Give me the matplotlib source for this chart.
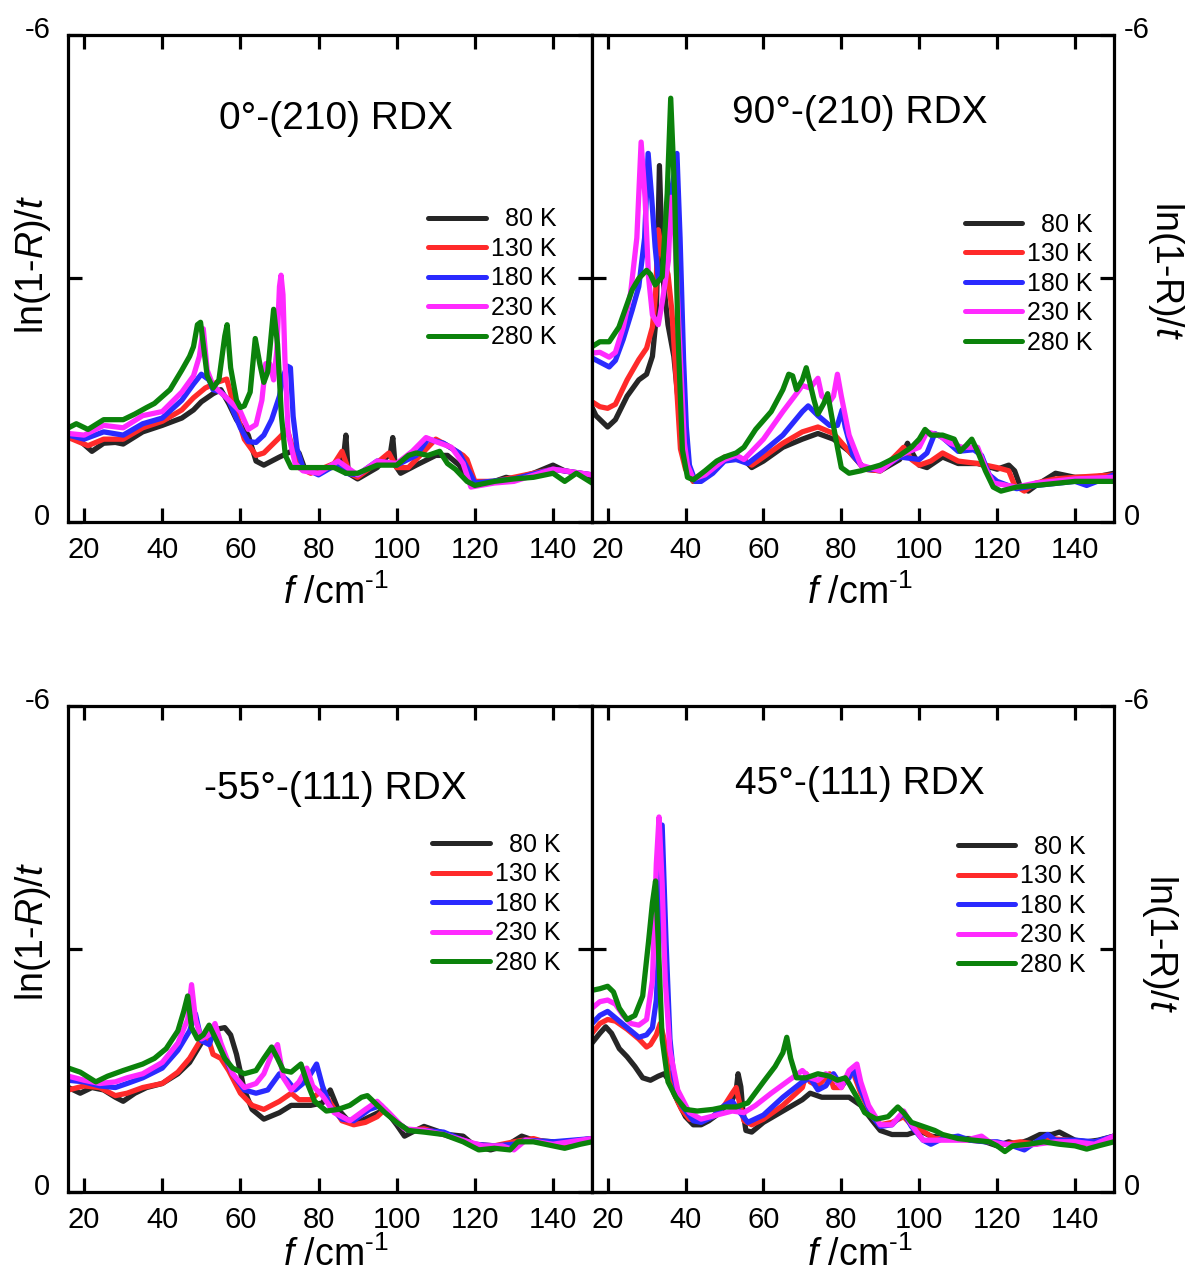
import matplotlib
matplotlib.use('Agg')
import matplotlib.pyplot as plt
import matplotlib.transforms as mtransforms

plt.rcParams['font.family'] = ['Liberation Sans', 'DejaVu Sans']
plt.rcParams['mathtext.fontset'] = 'custom'
plt.rcParams['mathtext.rm'] = 'Liberation Sans'
plt.rcParams['mathtext.it'] = 'Liberation Sans:italic'

# legend labels (leading spaces right-align the 80 K entry)
temps = ['  80 K', '130 K', '180 K', '230 K', '280 K']
colors = ['#262626', '#ff2a2a', '#2a2aff', '#ff2aff', '#0b820b']
xticks = [20, 40, 60, 80, 100, 120, 140]

# ---- 0deg-(210) RDX : (f / cm-1, ln(1-R)/t) ----
TL80 = [(16,-1.07),(18,-1.04),(22,-0.87),(25,-0.97),(28,-0.98),(30,-0.96),(35,-1.11),(40,-1.19),
        (45,-1.28),(48,-1.38),(50,-1.48),(53,-1.58),(55,-1.63),(57,-1.46),(59,-1.26),(62,-1.07),
        (64,-0.75),(66,-0.70),(70,-0.80),(73,-0.87),(75,-0.85),(76.5,-0.65),(80,-0.63),(85,-0.70),
        (86.4,-0.80),(87,-1.07),(87.6,-0.60),(90,-0.53),(95,-0.67),(98.4,-0.85),(99,-1.04),
        (99.6,-0.70),(101,-0.60),(105,-0.70),(110,-0.82),(113,-0.82),(116,-0.70),(118,-0.53),
        (120,-0.45),(125,-0.50),(128,-0.55),(130,-0.53),(135,-0.60),(140,-0.70),(143,-0.63),
        (146,-0.60),(150,-0.55)]
TL130 = [(16,-1.04),(21,-0.94),(25,-1.02),(30,-1.02),(35,-1.16),(40,-1.24),(45,-1.38),(48,-1.53),
         (51,-1.65),(54,-1.72),(56.5,-1.76),(58,-1.50),(61,-1.02),(64,-0.82),(66,-0.85),(70,-1.04),
         (72,-1.14),(73,-0.97),(75,-0.67),(78,-0.60),(84,-0.72),(86,-0.87),(88,-0.60),(90,-0.55),
         (96,-0.77),(98,-0.85),(100,-0.67),(103,-0.67),(108,-0.92),(110,-1.02),(113,-0.94),
         (117,-0.82),(118,-0.77),(120,-0.50),(125,-0.50),(130,-0.55),(140,-0.65),(150,-0.58)]
TL180 = [(16,-1.07),(20,-1.02),(25,-1.11),(30,-1.07),(35,-1.21),(40,-1.28),(45,-1.50),(48,-1.70),
         (50,-1.82),(52,-1.75),(53,-1.63),(55,-1.60),(57,-1.50),(60,-1.16),(62,-0.99),(64,-0.98),
         (66,-1.07),(68,-1.26),(70,-1.55),(71,-1.80),(72,-1.92),(72.8,-1.90),(73.5,-1.30),
         (74.5,-0.90),(76,-0.67),(80,-0.58),(85,-0.72),(87,-0.60),(90,-0.58),(95,-0.75),(100,-0.70),
         (105,-0.82),(108,-1.02),(112,-0.97),(116,-0.85),(118,-0.67),(120,-0.48),(130,-0.53),
         (140,-0.65),(150,-0.58)]
TL230 = [(16,-1.09),(20,-1.07),(25,-1.19),(30,-1.16),(35,-1.31),(40,-1.36),(45,-1.60),(48,-1.80),
         (49.5,-2.04),(50.5,-2.38),(51.5,-1.87),(53,-1.68),(56,-1.55),(60,-1.36),(62,-1.14),
         (64,-1.20),(65.5,-1.50),(66.5,-1.95),(67.5,-1.95),(68.5,-1.75),(69.3,-2.10),(70,-2.90),
         (70.4,-3.04),(70.9,-2.80),(71.4,-2.00),(72.2,-1.10),(74,-0.72),(76,-0.63),(80,-0.60),
         (85,-0.75),(90,-0.58),(95,-0.75),(100,-0.72),(104,-0.87),(107.5,-1.04),(110,-0.99),
         (114,-0.92),(117,-0.72),(119,-0.43),(125,-0.48),(130,-0.50),(140,-0.65),(143,-0.63),
         (150,-0.58)]
TL280 = [(16,-1.16),(18,-1.21),(21,-1.14),(25,-1.26),(30,-1.26),(33,-1.33),(36,-1.41),(38,-1.46),
         (42,-1.63),(45,-1.87),(47,-2.04),(48,-2.16),(49,-2.43),(49.8,-2.46),(50.5,-2.19),
         (51.5,-1.80),(53,-1.65),(54.5,-1.75),(56,-2.29),(56.6,-2.43),(57.5,-1.90),(59,-1.50),
         (60,-1.41),(61,-1.43),(62.5,-1.60),(63.8,-2.26),(65,-1.94),(66,-1.72),(67,-1.85),
         (68.5,-2.62),(69.5,-2.19),(70.5,-1.31),(71.5,-0.82),(73,-0.67),(75,-0.67),(80,-0.67),
         (84,-0.67),(87,-0.60),(90,-0.60),(95,-0.70),(100,-0.70),(103,-0.82),(105,-0.85),
         (108,-0.82),(111,-0.87),(113,-0.72),(115,-0.65),(118,-0.50),(120,-0.45),(125,-0.50),
         (130,-0.53),(135,-0.55),(140,-0.60),(143,-0.50),(146,-0.60),(150,-0.48)]

# ---- 90deg-(210) RDX ----
TR80 = [(16,-1.41),(17,-1.31),(20,-1.17),(22,-1.26),(25,-1.55),(28,-1.75),(30,-1.82),(31.5,-2.04),
        (32.5,-2.53),(33.3,-4.39),(34.2,-3.02),(35.5,-2.43),(37,-2.04),(38,-1.55),(40,-0.82),
        (41,-0.58),(42,-0.50),(45,-0.58),(50,-0.77),(55,-0.77),(57,-0.67),(60,-0.75),(65,-0.92),
        (70,-1.02),(74,-1.09),(78,-1.02),(82,-0.87),(86,-0.65),(90,-0.63),(95,-0.77),(97,-0.97),
        (98,-0.87),(100,-0.70),(102,-0.67),(106,-0.80),(110,-0.72),(115,-0.72),(120,-0.65),
        (123,-0.70),(124.5,-0.63),(126,-0.43),(128,-0.38),(130,-0.45),(135,-0.60),(140,-0.55),
        (145,-0.55),(150,-0.60)]
TR130 = [(16,-1.48),(18,-1.42),(20,-1.40),(22,-1.45),(25,-1.75),(28,-2.00),(30,-2.14),(31.5,-2.40),
         (32.3,-2.80),(33.0,-3.60),(34,-3.30),(35.5,-3.05),(36.5,-2.60),(37.8,-1.60),(38.7,-0.90),
         (40,-0.65),(42,-0.50),(45,-0.60),(50,-0.80),(53,-0.82),(57,-0.70),(60,-0.80),(65,-0.97),
         (70,-1.11),(74,-1.17),(78,-1.09),(82,-0.87),(86,-0.65),(90,-0.63),(95,-0.87),(96,-0.92),
         (98,-0.77),(100,-0.70),(103,-0.75),(106,-0.85),(110,-0.75),(115,-0.72),(120,-0.67),
         (123,-0.63),(124.5,-0.45),(127,-0.38),(130,-0.48),(135,-0.53),(140,-0.55),(150,-0.58)]
TR180 = [(16,-2.02),(18,-1.97),(20.4,-1.91),(22,-1.99),(24,-2.25),(26.3,-2.61),(28,-2.90),
         (29.5,-3.50),(30.4,-4.54),(31.3,-4.00),(32.2,-3.39),(33,-3.00),(34,-3.05),(35,-3.50),
         (36.5,-4.10),(37.8,-4.54),(38.6,-3.50),(39.5,-2.00),(40.2,-1.17),(41,-0.70),(42.5,-0.50),
         (44,-0.50),(47,-0.60),(50,-0.75),(53,-0.77),(56,-0.72),(60,-0.87),(65,-1.07),(70,-1.36),
         (71.5,-1.43),(74,-1.31),(77,-1.19),(79,-1.19),(80.2,-1.38),(81,-1.17),(83,-0.82),
         (86,-0.65),(90,-0.65),(95,-0.80),(100,-0.77),(102,-0.85),(104,-1.09),(106,-1.04),
         (110,-0.87),(114,-0.89),(116,-0.82),(118,-0.58),(120,-0.50),(125,-0.41),(130,-0.45),
         (140,-0.50),(143,-0.45),(150,-0.58)]
TR230 = [(16,-2.08),(18,-2.09),(20.4,-2.03),(22,-2.09),(24,-2.40),(25.9,-2.82),(27.5,-3.50),
         (28.6,-4.68),(29.6,-4.00),(30.5,-3.02),(31.5,-2.55),(33,-2.43),(34,-2.70),(35.6,-3.22),
         (36.3,-4.00),(37.2,-3.60),(38.2,-2.50),(39.7,-0.97),(40.5,-0.70),(42,-0.53),(45,-0.58),
         (50,-0.77),(53,-0.82),(55,-0.77),(60,-1.02),(65,-1.36),(68,-1.55),(70,-1.68),(72,-1.65),
         (74,-1.77),(75,-1.55),(77,-1.48),(78,-1.55),(79,-1.82),(80,-1.55),(82,-1.07),(85,-0.70),
         (90,-0.63),(95,-0.82),(100,-0.92),(102,-1.11),(105,-1.07),(108,-0.97),(111,-0.92),
         (115,-0.92),(117,-0.67),(119,-0.48),(125,-0.43),(130,-0.48),(140,-0.53),(150,-0.55)]
TR280 = [(16,-2.16),(18,-2.22),(20.4,-2.22),(22.9,-2.40),(26.3,-2.86),(28,-3.00),(30,-3.10),
         (31,-3.05),(32.2,-2.92),(34,-3.02),(35.3,-4.05),(36.2,-5.22),(37.2,-4.05),(38,-2.40),
         (39.2,-0.89),(40.5,-0.55),(42,-0.52),(45,-0.63),(48,-0.75),(50,-0.80),(53,-0.85),
         (55,-0.92),(58,-1.14),(62,-1.36),(65,-1.63),(66.5,-1.82),(67.5,-1.80),(68.5,-1.63),
         (70,-1.75),(71,-1.90),(72,-1.70),(73,-1.50),(74,-1.33),(75.5,-1.46),(76.5,-1.58),
         (77.5,-1.31),(79,-0.92),(80,-0.67),(82,-0.60),(85,-0.63),(90,-0.70),(95,-0.82),(98,-0.92),
         (100,-1.02),(101.5,-1.14),(103,-1.07),(106,-1.07),(109,-1.02),(110.5,-0.87),(112,-0.94),
         (113.5,-1.02),(115,-0.87),(117,-0.63),(119,-0.43),(121,-0.38),(125,-0.43),(130,-0.45),
         (140,-0.50),(150,-0.50)]

# ---- -55deg-(111) RDX ----
BL80 = [(16,-1.29),(19,-1.22),(22,-1.29),(25,-1.26),(28,-1.17),(30,-1.12),(33,-1.22),(36,-1.29),
        (40,-1.34),(44,-1.46),(47,-1.60),(50,-1.84),(52,-1.96),(54,-2.01),(56,-2.03),(57.5,-1.94),
        (59,-1.70),(61,-1.26),(63,-1.02),(66,-0.90),(70,-0.98),(73,-1.07),(78,-1.07),(81,-1.10),
        (83,-1.26),(85,-1.02),(88,-0.86),(91,-0.88),(94,-0.95),(97,-1.02),(100,-0.83),(102,-0.69),
        (104,-0.74),(107,-0.81),(110,-0.76),(113,-0.71),(117,-0.69),(120,-0.57),(124,-0.52),
        (128,-0.57),(132,-0.69),(135,-0.64),(140,-0.62),(143,-0.57),(147,-0.64),(150,-0.66)]
BL130 = [(16,-1.26),(20,-1.31),(24,-1.29),(28,-1.19),(31,-1.22),(35,-1.29),(40,-1.34),(44,-1.48),
         (47,-1.65),(50,-1.89),(51.5,-1.94),(53,-1.70),(55,-1.65),(57,-1.50),(60,-1.22),(63,-1.07),
         (66,-1.02),(70,-1.12),(73,-1.22),(75,-1.14),(78,-1.14),(81,-1.26),(83,-1.10),(86,-0.88),
         (89,-0.83),(92,-0.86),(95,-0.93),(97,-1.02),(100,-0.86),(103,-0.76),(107,-0.78),
         (112,-0.71),(117,-0.64),(120,-0.59),(125,-0.57),(130,-0.62),(135,-0.66),(140,-0.59),
         (145,-0.59),(150,-0.66)]
BL180 = [(16,-1.38),(20,-1.36),(24,-1.31),(28,-1.29),(31,-1.34),(35,-1.41),(40,-1.53),(44,-1.75),
         (47,-1.99),(48.5,-2.20),(50,-1.87),(52,-1.82),(53.5,-2.01),(55,-1.77),(58,-1.46),
         (61,-1.26),(64,-1.22),(67,-1.26),(70,-1.46),(72,-1.38),(74,-1.26),(76,-1.34),(78,-1.46),
         (79.5,-1.58),(81,-1.31),(83,-1.05),(86,-0.90),(89,-0.88),(93,-1.02),(96,-1.07),(100,-0.86),
         (103,-0.76),(107,-0.76),(112,-0.74),(117,-0.64),(120,-0.59),(125,-0.57),(130,-0.59),
         (133,-0.64),(140,-0.62),(150,-0.66)]
BL230 = [(16,-1.43),(20,-1.38),(24,-1.34),(28,-1.36),(31,-1.41),(35,-1.46),(40,-1.60),(44,-1.84),
         (46.5,-2.13),(47.5,-2.56),(48.5,-2.13),(50,-1.89),(52,-1.94),(53.5,-2.08),(55,-1.84),
         (58,-1.46),(61,-1.29),(64,-1.34),(66,-1.46),(68,-1.70),(69.5,-1.82),(71,-1.41),(73,-1.26),
         (75,-1.36),(77,-1.53),(78.5,-1.31),(81,-1.19),(84,-0.98),(88,-0.88),(92,-1.02),(95,-1.12),
         (98,-0.98),(102,-0.78),(107,-0.76),(112,-0.71),(117,-0.64),(122,-0.57),(127,-0.57),
         (130,-0.52),(133,-0.64),(140,-0.59),(150,-0.66)]
BL280 = [(16,-1.53),(19,-1.48),(23,-1.36),(26,-1.43),(30,-1.50),(35,-1.58),(38,-1.65),(41,-1.77),
         (44,-1.99),(45.5,-2.23),(46.5,-2.42),(47.5,-2.03),(49,-1.89),(50.5,-1.94),(52,-2.06),
         (53.5,-1.91),(56,-1.65),(58,-1.53),(61,-1.46),(64,-1.50),(66,-1.65),(68,-1.79),
         (69.5,-1.65),(71,-1.50),(73,-1.48),(75.5,-1.58),(77,-1.36),(79,-1.12),(82,-1.00),
         (85,-1.02),(88,-1.07),(91,-1.17),(92.5,-1.19),(94,-1.12),(97,-0.98),(100,-0.86),
         (103,-0.76),(107,-0.74),(112,-0.71),(117,-0.62),(121,-0.52),(125,-0.54),(129,-0.52),
         (131,-0.62),(135,-0.62),(140,-0.57),(143,-0.54),(147,-0.59),(150,-0.62)]

# ---- 45deg-(111) RDX ----
BR80 = [(16,-1.84),(18,-1.96),(19.5,-2.04),(21,-1.96),(23,-1.77),(25,-1.67),(27,-1.55),(29,-1.41),
        (31,-1.38),(33,-1.43),(34.5,-1.46),(36,-1.36),(38,-1.12),(40,-0.93),(42,-0.83),(44,-0.83),
        (46,-0.88),(48,-0.95),(50,-1.05),(52,-1.14),(53,-1.25),(53.5,-1.46),(54.2,-1.30),
        (54.7,-1.02),(55.5,-0.76),(57,-0.74),(60,-0.86),(65,-1.00),(70,-1.14),(72,-1.22),(75,-1.17),
        (80,-1.17),(82,-1.17),(85,-1.07),(88,-0.88),(90,-0.76),(93,-0.71),(97,-0.71),(100,-0.76),
        (103,-0.69),(108,-0.66),(113,-0.66),(117,-0.62),(120,-0.57),(123,-0.62),(125,-0.59),
        (128,-0.64),(131,-0.71),(134,-0.71),(136,-0.74),(140,-0.64),(143,-0.62),(146,-0.64),
        (150,-0.69)]
BR130 = [(16,-1.96),(18,-2.08),(20,-2.13),(22,-2.11),(25,-2.01),(28,-1.89),(30,-1.79),(31,-1.82),
         (32.5,-1.94),(33.5,-2.08),(34.5,-1.89),(35.5,-1.50),(37,-1.22),(39,-1.02),(41,-0.90),
         (44,-0.88),(47,-0.93),(50,-1.07),(52,-1.22),(53,-1.29),(54,-1.07),(55,-0.88),(57,-0.83),
         (60,-0.90),(65,-1.07),(70,-1.29),(71,-1.46),(72,-1.36),(74,-1.31),(77,-1.46),(78,-1.29),
         (80,-1.29),(82,-1.46),(83,-1.48),(85,-1.22),(88,-0.93),(90,-0.83),(93,-0.86),(96,-0.93),
         (98,-0.83),(100,-0.78),(104,-0.66),(108,-0.66),(113,-0.64),(118,-0.62),(122,-0.59),
         (126,-0.62),(130,-0.59),(134,-0.66),(138,-0.64),(142,-0.59),(146,-0.62),(150,-0.69)]
BR180 = [(16,-2.08),(18,-2.18),(20,-2.23),(22,-2.15),(25,-2.03),(28,-1.91),(30,-1.94),(31.5,-2.03),
         (32.5,-2.37),(33.2,-3.09),(34,-4.53),(35,-3.09),(36,-1.89),(37,-1.41),(39,-1.07),
         (42,-0.88),(44,-0.86),(47,-0.93),(50,-1.07),(52,-1.12),(54,-0.98),(56,-0.86),(60,-0.95),
         (65,-1.17),(70,-1.36),(72,-1.41),(74,-1.26),(76,-1.31),(78,-1.46),(80,-1.31),(82,-1.41),
         (83,-1.53),(85,-1.26),(88,-0.93),(90,-0.81),(93,-0.83),(96,-0.98),(98,-0.81),(101,-0.64),
         (103,-0.59),(106,-0.66),(110,-0.69),(113,-0.64),(117,-0.62),(120,-0.62),(124,-0.57),
         (127,-0.52),(130,-0.62),(133,-0.71),(135,-0.64),(140,-0.64),(145,-0.62),(150,-0.69)]
BR230 = [(16,-2.27),(18,-2.35),(20,-2.37),(22,-2.32),(24,-2.18),(26,-2.08),(28,-2.06),(30,-2.13),
         (31.5,-2.61),(32.5,-4.05),(33.2,-4.63),(34,-3.81),(34.8,-2.61),(36,-1.75),(38,-1.26),
         (41,-0.98),(44,-0.90),(48,-0.95),(52,-1.00),(55,-0.98),(58,-1.07),(62,-1.22),(66,-1.36),
         (70,-1.50),(72,-1.41),(74,-1.38),(76,-1.46),(78,-1.41),(80,-1.29),(82,-1.50),(84,-1.58),
         (85,-1.36),(87,-1.07),(90,-0.83),(93,-0.83),(96,-1.00),(98,-0.83),(101,-0.64),(104,-0.64),
         (108,-0.64),(112,-0.64),(116,-0.69),(118,-0.62),(122,-0.59),(126,-0.57),(130,-0.59),
         (135,-0.62),(140,-0.62),(145,-0.59),(150,-0.69)]
BR280 = [(16,-2.49),(18,-2.51),(20,-2.54),(21.5,-2.47),(23,-2.27),(25,-2.13),(27,-2.18),(29,-2.42),
         (30.5,-3.09),(31.5,-3.57),(32.3,-3.84),(33,-3.09),(34,-1.89),(35.5,-1.36),(37.5,-1.17),
         (40,-1.02),(43,-1.00),(47,-1.02),(50,-1.05),(53,-1.05),(56,-1.10),(60,-1.36),(63,-1.55),
         (65,-1.72),(66,-1.91),(67,-1.65),(68.5,-1.41),(71,-1.41),(74,-1.46),(77,-1.43),(79,-1.38),
         (81,-1.41),(82,-1.34),(84,-1.17),(86,-0.98),(89,-0.90),(92,-0.93),(94.5,-1.05),(96,-0.98),
         (98,-0.86),(101,-0.81),(104,-0.76),(106,-0.71),(110,-0.66),(114,-0.64),(118,-0.62),
         (120,-0.57),(122,-0.50),(124,-0.57),(128,-0.59),(132,-0.62),(136,-0.59),(140,-0.57),
         (143,-0.53),(146,-0.57),(150,-0.62)]

fig = plt.figure(figsize=(11.91, 12.79), dpi=100)

L, M, R = 0.0575, 0.4971, 0.9353
TOP = (0.5919, 0.3808)
BOT = (0.0680, 0.3800)


def panel(rect, curves, title, title_xy, leg_xy, side, ylab_xy, xlab_y):
    ax = fig.add_axes(rect)
    for pts, lab, c in zip(curves, temps, colors):
        f = [p[0] for p in pts]
        v = [p[1] for p in pts]
        ax.plot(f, v, color=c, lw=3.8, label=lab, solid_joinstyle='round',
                solid_capstyle='round')
    ax.set_xlim(16, 150)
    ax.set_ylim(0, -6)
    ax.set_xticks(xticks)
    ax.set_yticks([0, -3, -6])
    ax.set_yticklabels(['0', '', '-6'])
    for s in ax.spines.values():
        s.set_linewidth(2.3)
    ax.tick_params(direction='in', length=10, width=2.3, labelsize=21,
                   top=True, right=True, left=True, bottom=True)
    ax.tick_params(axis='x', pad=10)
    if side == 'left':
        ax.tick_params(axis='y', labelleft=True, labelright=False, pad=13)
        ax.set_ylabel(r'ln(1-$R$)/$t$', fontsize=27)
    else:
        ax.tick_params(axis='y', labelleft=False, labelright=True, pad=7)
        ax.yaxis.set_label_position('right')
        ax.set_ylabel(r'ln(1-R)/$t$', fontsize=27, rotation=270, va='bottom')
    ax.yaxis.set_label_coords(*ylab_xy)
    ax.set_xlabel(r'$f$ /cm$^{\text{-1}}$', fontsize=27)
    ax.xaxis.set_label_coords(title_xy[0], xlab_y)
    # y tick labels sit a little above their ticks in the original
    off = mtransforms.ScaledTranslation(0, 0.08, fig.dpi_scale_trans)
    for lab in ax.get_yticklabels():
        lab.set_transform(lab.get_transform() + off)
    ax.text(title_xy[0], title_xy[1], title, transform=ax.transAxes,
            ha='center', va='center', fontsize=28)
    leg = ax.legend(loc='upper left', bbox_to_anchor=leg_xy, frameon=False, fontsize=18,
                    handlelength=2.3, handletextpad=0.2, labelspacing=0.22,
                    borderpad=0, borderaxespad=0)
    for h in leg.get_lines():
        h.set_linewidth(3.6)
    return ax


panel([L, TOP[0], M - L, TOP[1]], [TL80, TL130, TL180, TL230, TL280],
      '0°-(210) RDX', (0.51, 0.828), (0.687, 0.646), 'left', (-0.03, 0.528), -0.108)
panel([M, TOP[0], R - M, TOP[1]], [TR80, TR130, TR180, TR230, TR280],
      '90°-(210) RDX', (0.513, 0.84), (0.7146, 0.635), 'right', (1.062, 0.517), -0.108)
panel([L, BOT[0], M - L, BOT[1]], [BL80, BL130, BL180, BL230, BL280],
      '-55°-(111) RDX', (0.51, 0.829), (0.695, 0.739), 'left', (-0.03, 0.535), -0.092)
panel([M, BOT[0], R - M, BOT[1]], [BR80, BR130, BR180, BR230, BR280],
      '45°-(111) RDX', (0.513, 0.84), (0.701, 0.735), 'right', (1.05, 0.512), -0.092)

fig.savefig('out.png', dpi=100)
